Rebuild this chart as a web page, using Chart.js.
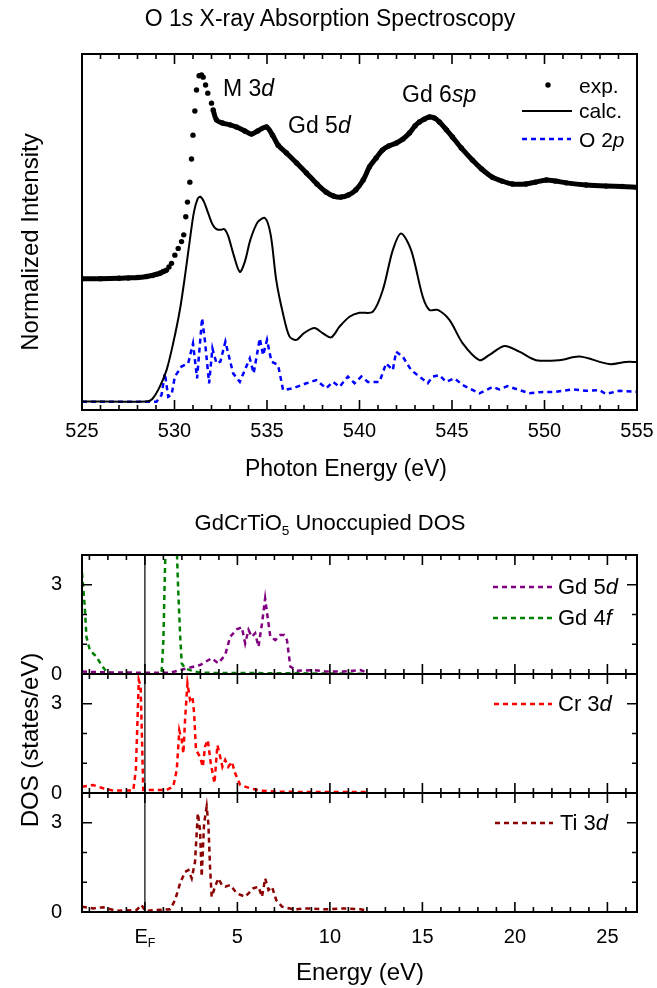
<!DOCTYPE html>
<html>
<head>
<meta charset="utf-8">
<script src="https://cdn.jsdelivr.net/npm/chart.js@4.4.1/dist/chart.umd.min.js"></script>
<style>
body{margin:0;background:#fff;font-family:"Liberation Sans",Arial,sans-serif;color:#000}
#page{position:relative;width:657px;height:988px;overflow:hidden}
.box{position:absolute;left:0;width:657px}
.t{position:absolute;white-space:nowrap;line-height:1}
.c{transform:translate(-50%,-50%)}
.l{transform:translateY(-50%)}
.v{transform:translate(-50%,-50%) rotate(-90deg)}
sub{font-size:62%;vertical-align:-0.35em;line-height:0}
</style>
</head>
<body>
<div id="page">
  <div class="box" style="top:0;height:500px"><canvas id="xas" width="657" height="500"></canvas></div>
  <div class="box" style="top:540px;height:149px"><canvas id="dos1" width="657" height="149"></canvas></div>
  <div class="box" style="top:659px;height:149px"><canvas id="dos2" width="657" height="149"></canvas></div>
  <div class="box" style="top:778px;height:210px"><canvas id="dos3" width="657" height="210"></canvas></div>

  <div class="t c" style="left:330px;top:18px;font-size:23px">O 1<i>s</i> X-ray Absorption Spectroscopy</div>
  <div class="t v" style="left:30px;top:242px;font-size:24px">Normalized Intensity</div>
  <div class="t c" style="left:346px;top:468px;font-size:23px">Photon Energy (eV)</div>
  <div class="t l" style="left:223px;top:88px;font-size:23px">M 3<i>d</i></div>
  <div class="t l" style="left:288px;top:125px;font-size:23px">Gd 5<i>d</i></div>
  <div class="t l" style="left:402px;top:94px;font-size:23px">Gd 6<i>sp</i></div>
  <div class="t l" style="left:579px;top:85px;font-size:21px">exp.</div>
  <div class="t l" style="left:579px;top:110px;font-size:21px">calc.</div>
  <div class="t l" style="left:579px;top:139px;font-size:21px">O 2<i>p</i></div>

  <div class="t c" style="left:330px;top:523px;font-size:22px">GdCrTiO<sub>5</sub> Unoccupied DOS</div>
  <div class="t v" style="left:30px;top:740px;font-size:24px">DOS (states/eV)</div>
  <div class="t l" style="left:558px;top:587px;font-size:22px">Gd 5<i>d</i></div>
  <div class="t l" style="left:558px;top:618px;font-size:22px">Gd 4<i>f</i></div>
  <div class="t l" style="left:558px;top:704px;font-size:22px">Cr 3<i>d</i></div>
  <div class="t l" style="left:560px;top:823px;font-size:22px">Ti 3<i>d</i></div>
  <div id="ef" class="t c" style="left:145px;top:936px;font-size:20px">E<sub>F</sub></div>
  <div class="t c" style="left:360px;top:972px;font-size:24px">Energy (eV)</div>
</div>
<script>
// O 1s XAS (intensity in arbitrary units, 0..100)
var expE = [525,526,527,527.5,528,528.5,528.8,529,529.21,529.4,529.57,529.7,529.84,530.02,530.2,530.38,530.5,530.61,530.7,530.83,530.92,531,531.1,531.19,531.33,531.46,531.55,531.68,531.8,532,532.09,532.27,532.6,533,533.35,533.8,534.16,534.5,534.97,535.3,535.6,536.05,536.6,537.13,537.7,538.2,538.6,539,539.4,539.8,540.2,540.54,540.9,541.24,541.6,542,542.35,542.7,543,543.24,543.5,543.78,544.05,544.32,544.7,545.02,545.5,546.1,546.6,547.18,547.7,548.26,549,549.5,550.1,550.6,551.17,552.25,553.33,554.2,555];
var expI = [36.9,36.9,37.0,37.1,37.2,37.5,37.8,38.1,38.4,38.9,39.3,40.2,41.2,43.5,45.4,47.3,49.2,54.3,58.4,64.0,70.5,77.2,84.0,89.9,93.9,94.1,93.5,91.3,89.0,86.2,84.3,81.5,80.6,80.1,79.5,78.4,77.5,78.4,79.5,77.2,74.4,72.2,69.4,66.6,63.5,61.2,60.1,59.8,60.4,61.8,64.6,68.3,70.8,73.0,74.2,75.0,76.1,77.8,79.8,80.9,81.7,82.3,82.0,80.9,78.7,76.7,73.6,70.2,67.7,65.4,64.3,63.5,63.5,64.0,64.6,64.3,63.8,63.2,62.9,62.8,62.6];
var expDotsOnly = [529.6, 532.2]; // energies where the exp. points show as loose dots

var calcE = [525,528.5,528.8,529.2,529.57,529.93,530.29,530.56,530.83,531.05,531.25,531.4,531.6,531.82,532.05,532.27,532.5,532.7,532.9,533.2,533.53,533.8,534.1,534.5,534.9,535.2,535.5,535.86,536.22,536.59,537,537.57,538,538.47,538.92,539.46,540,540.72,541.26,541.8,542.25,542.79,543.42,543.78,544.23,544.86,545.58,546.48,547,547.83,548.64,549.54,550.8,551.9,553.5,554.4,555];
var calcI = [2.4,2.4,3.1,6.5,11.2,18.8,28.1,37.4,47.8,55.6,59.3,59.9,58.4,55.3,52.2,50.8,50.6,50.8,48.9,43.5,38.8,41.6,47.8,52.8,53.9,49.2,36.5,27.2,20.6,19.7,21.6,23.0,21.6,20.4,23.4,26.2,27.3,27.6,33.7,44.9,49.6,44.9,31.8,28.1,28.1,25.3,18.7,14.0,15.4,18.0,16.4,14.0,14.0,15.0,12.9,13.5,13.5];

var o2pE = [525,529.03,529.3,529.48,529.66,529.84,530.02,530.38,530.74,531,531.22,531.49,531.64,531.87,532.05,532.27,532.48,532.75,533.17,533.53,534.07,534.28,534.61,534.79,535,535.24,535.6,535.87,536.4,537.13,537.66,538.2,538.56,538.92,539.37,539.73,540.1,540.45,541.08,541.44,541.8,541.98,542.34,542.79,543.24,543.69,543.96,544.32,544.68,545.13,545.58,546.48,547.2,547.56,548,548.64,549.18,549.72,550.62,551.52,552.24,552.96,553.32,554.04,555];
var o2pI = [2.3,2.3,4.2,10.3,3.7,4.2,9.4,12.2,13.1,18.7,8.9,25.8,19.7,7.5,17.3,13.1,13.6,19.2,10.3,7.9,14.5,10.3,20.1,15.4,19.7,13.6,12.6,5.6,6.1,7.5,8.4,6.1,7.9,6.5,9.4,7.5,9.4,7.9,7.9,13.1,11.2,16.4,15.0,11.2,9.4,7.5,9.4,9.8,7.9,8.9,7.0,4.7,6.5,5.8,6.7,5.6,4.7,5.0,5.1,5.8,5.4,5.6,4.5,5.4,5.1];

var xasTicks = [525,530,535,540,545,550,555];

// unoccupied DOS (states/eV), energy relative to E_F
var gd5dE = [-3.4,-1.9,1.36,2.26,2.98,3.61,3.97,4.34,4.61,4.97,5.24,5.42,5.6,5.78,5.96,6.14,6.33,6.5,6.63,6.78,7.05,7.32,7.53,7.68,7.86,8.22,9.13,9.85,10.75,11.65,12];
var gd5d  = [0.08,0.05,0.04,0.19,0.3,0.53,0.36,0.64,1.25,1.5,1.57,1.03,1.48,1.25,1.37,0.92,1.7,2.54,1.93,1.25,1.14,1.31,1.31,1.14,0.25,0.11,0.13,0.08,0.08,0.13,0.05];
var gd4fE = [-3.4,-3.25,-3.16,-2.98,-2.62,-2.35,-2.08,-1.72,-0.27,0.9,1.0,1.08,1.2,1.6,1.72,1.8,1.9,1.99,2.17,2.44,2.98,12];
var gd4f  = [3.4,2.26,1.25,0.81,0.58,0.3,0.08,0.02,0.02,0.02,1.14,3.4,6,6,4.3,2.82,1.37,0.36,0.19,0.13,0.04,0.01];
var cr3dE = [-3.4,-2.8,-2.26,-1.72,-0.63,-0.49,-0.4,-0.33,-0.23,-0.16,-0.09,1.18,1.53,1.72,1.86,1.99,2.08,2.17,2.3,2.44,2.57,2.66,2.76,2.98,3.13,3.25,3.4,3.56,3.76,3.92,4.03,4.19,4.34,4.51,4.7,4.88,5.15,5.69,6.23,7.14,12];
var cr3d  = [0.21,0.27,0.16,0.08,0.08,0.77,2.45,3.8,3.57,1.89,0.1,0.1,0.21,0.77,2.1,1.78,1.33,2.45,3.69,3.13,3.24,2.68,1.45,1.22,0.88,1.56,1.78,1.0,0.33,1.61,1.33,0.88,1.11,0.88,1.05,0.66,0.27,0.16,0.08,0.04,0.03];
var ti3dE = [-3.4,-2.8,-2.26,-1.53,-0.45,-0.18,0,1.36,1.63,1.9,2.17,2.35,2.53,2.71,2.86,2.98,3.07,3.2,3.34,3.43,3.52,3.61,3.79,3.97,4.16,4.34,4.61,4.97,5.42,5.87,6.14,6.33,6.5,6.68,6.87,7.1,7.41,8.04,8.76,9.85,10.75,11.65,12];
var ti3d  = [0.18,0.12,0.16,0.04,0.07,0.24,0.04,0.09,0.4,0.96,1.35,1.41,1.13,1.69,3.32,2.76,1.19,2.98,3.54,2.98,1.52,0.51,0.85,1.13,0.91,0.85,0.91,0.63,0.51,0.8,0.85,0.51,1.13,0.74,0.85,0.4,0.18,0.09,0.12,0.09,0.12,0.09,0.05];

var dosTicks = [0,5,10,15,20,25];
var fermi = 0;

var FONT = '"Liberation Sans", Arial, sans-serif';

function pts(xs, ys) {
	return xs.map(function(x, i){ return {x: x, y: ys[i]}; });
}

// frame + inward ticks on all four sides
var frameTicks = {
	id: 'frameTicks',
	afterDatasetsDraw: function(chart, args, o) {
		var ctx = chart.ctx, a = chart.chartArea;
		var xs = chart.scales.x, ys = chart.scales.y;
		ctx.save();
		ctx.strokeStyle = '#000';
		ctx.lineWidth = 1.6;
		ctx.beginPath();
		for (var v = Math.ceil(xs.min); v <= xs.max; v += 1) {
			var px = xs.getPixelForValue(v);
			var len = (v % 5 === 0) ? 10 : 5;
			ctx.moveTo(px, a.bottom); ctx.lineTo(px, a.bottom - len);
			ctx.moveTo(px, a.top); ctx.lineTo(px, a.top + len);
		}
		(o.yTicks || []).forEach(function(t){
			var py = ys.getPixelForValue(t.v);
			ctx.moveTo(a.left, py); ctx.lineTo(a.left + t.len, py);
			ctx.moveTo(a.right, py); ctx.lineTo(a.right - t.len, py);
		});
		ctx.stroke();
		if (o.fermi !== undefined) {
			var fx = xs.getPixelForValue(o.fermi);
			ctx.lineWidth = 1.2;
			ctx.beginPath(); ctx.moveTo(fx, a.top); ctx.lineTo(fx, a.bottom); ctx.stroke();
		}
		ctx.lineWidth = 2;
		ctx.strokeRect(a.left, a.top, a.width, a.height);
		ctx.restore();
	}
};

// legend samples drawn with each dataset's own style
var legendMarks = {
	id: 'legendMarks',
	afterDraw: function(chart, args, o) {
		var ctx = chart.ctx;
		(o.items || []).forEach(function(it){
			var ds = chart.data.datasets[it.ds];
			ctx.save();
			if (it.dot) {
				ctx.fillStyle = ds.pointBackgroundColor;
				ctx.beginPath(); ctx.arc(it.x1, it.y, ds.pointRadius, 0, Math.PI * 2); ctx.fill();
			} else {
				ctx.strokeStyle = ds.borderColor;
				ctx.lineWidth = ds.borderWidth;
				ctx.setLineDash(ds.borderDash || []);
				ctx.beginPath(); ctx.moveTo(it.x1, it.y); ctx.lineTo(it.x2, it.y); ctx.stroke();
			}
			ctx.restore();
		});
	}
};

var xasChart = new Chart(document.getElementById('xas'), {
	type: 'line',
	data: {
		datasets: [{
			label: 'exp.',
			data: pts(expE, expI),
			borderColor: '#000',
			borderWidth: 5,
			pointRadius: 2.7,
			pointBackgroundColor: '#000',
			pointBorderWidth: 0,
			tension: 0.3,
			segment: {
				borderColor: function(c){
					var e = expE[c.p1DataIndex];
					return (e > expDotsOnly[0] && e < expDotsOnly[1]) ? 'rgba(0,0,0,0)' : '#000';
				}
			}
		}, {
			label: 'calc.',
			data: pts(calcE, calcI),
			borderColor: '#000',
			borderWidth: 2,
			pointRadius: 0,
			tension: 0.3
		}, {
			label: 'O 2p',
			data: pts(o2pE, o2pI),
			borderColor: '#0000ff',
			borderWidth: 2.5,
			borderDash: [5, 4],
			pointRadius: 0
		}]
	},
	options: {
		responsive: false,
		animation: false,
		layout: {padding: {left: 82, right: 20, top: 54, bottom: 0}},
		scales: {
			x: {
				type: 'linear', min: 525, max: 555,
				grid: {display: false}, border: {display: false},
				afterBuildTicks: function(s){ s.ticks = xasTicks.map(function(v){ return {value: v}; }); },
				afterFit: function(s){ s.height = 90; s.paddingLeft = 0; s.paddingRight = 0; },
				ticks: {padding: 1, color: '#000', font: {family: FONT, size: 20}, maxRotation: 0}
			},
			y: {min: 0, max: 100, display: false}
		},
		plugins: {
			legend: {display: false},
			tooltip: {enabled: false},
			frameTicks: {},
			legendMarks: {items: [
				{ds: 0, dot: true, x1: 548, y: 85},
				{ds: 1, x1: 522, x2: 572, y: 111},
				{ds: 2, x1: 522, x2: 571, y: 139}
			]}
		}
	},
	plugins: [frameTicks, legendMarks]
});

function dosChart(id, sets, withAxis, marks) {
	return new Chart(document.getElementById(id), {
		type: 'line',
		data: {
			datasets: sets.map(function(s){
				return {
					label: s.label, data: pts(s.e, s.v),
					borderColor: s.color, borderWidth: 2.5, borderDash: [5, 4],
					pointRadius: 0, clip: 0
				};
			})
		},
		options: {
			responsive: false,
			animation: false,
			layout: {padding: {left: 0, right: 20, top: 15, bottom: withAxis ? 0 : 15}},
			scales: {
				x: {
					type: 'linear', min: -3.4, max: 26.6, display: withAxis,
					grid: {display: false}, border: {display: false},
					afterBuildTicks: function(s){ s.ticks = dosTicks.map(function(v){ return {value: v}; }); },
					afterFit: function(s){
						if (withAxis) s.height = 76;
						s.paddingLeft = 0; s.paddingRight = 0;
					},
					ticks: {
						padding: 5, color: '#000', font: {family: FONT, size: 20}, maxRotation: 0,
						callback: function(v){ return v === fermi ? '' : v; }
					}
				},
				y: {
					min: 0, max: 4,
					grid: {display: false}, border: {display: false},
					afterBuildTicks: function(s){ s.ticks = [{value: 0}, {value: 3}]; },
					afterFit: function(s){ s.width = 82; s.paddingTop = 0; s.paddingBottom = 0; },
					ticks: {padding: 12, color: '#000', font: {family: FONT, size: 20}}
				}
			},
			plugins: {
				legend: {display: false},
				tooltip: {enabled: false},
				frameTicks: {fermi: fermi, yTicks: [{v: 1, len: 5}, {v: 2, len: 5}, {v: 3, len: 10}]},
				legendMarks: {items: marks}
			}
		},
		plugins: [frameTicks, legendMarks]
	});
}

dosChart('dos1', [
	{label: 'Gd 5d', e: gd5dE, v: gd5d, color: '#800080'},
	{label: 'Gd 4f', e: gd4fE, v: gd4f, color: '#008000'}
], false, [{ds: 0, x1: 493, x2: 552, y: 47}, {ds: 1, x1: 493, x2: 552, y: 78}]);

dosChart('dos2', [
	{label: 'Cr 3d', e: cr3dE, v: cr3d, color: '#ff0000'}
], false, [{ds: 0, x1: 494, x2: 552, y: 45}]);

var dos3 = dosChart('dos3', [
	{label: 'Ti 3d', e: ti3dE, v: ti3d, color: '#8b0000'}
], true, [{ds: 0, x1: 495, x2: 553, y: 45}]);

document.getElementById('ef').style.left = dos3.scales.x.getPixelForValue(fermi) + 'px';
</script>
</body>
</html>
